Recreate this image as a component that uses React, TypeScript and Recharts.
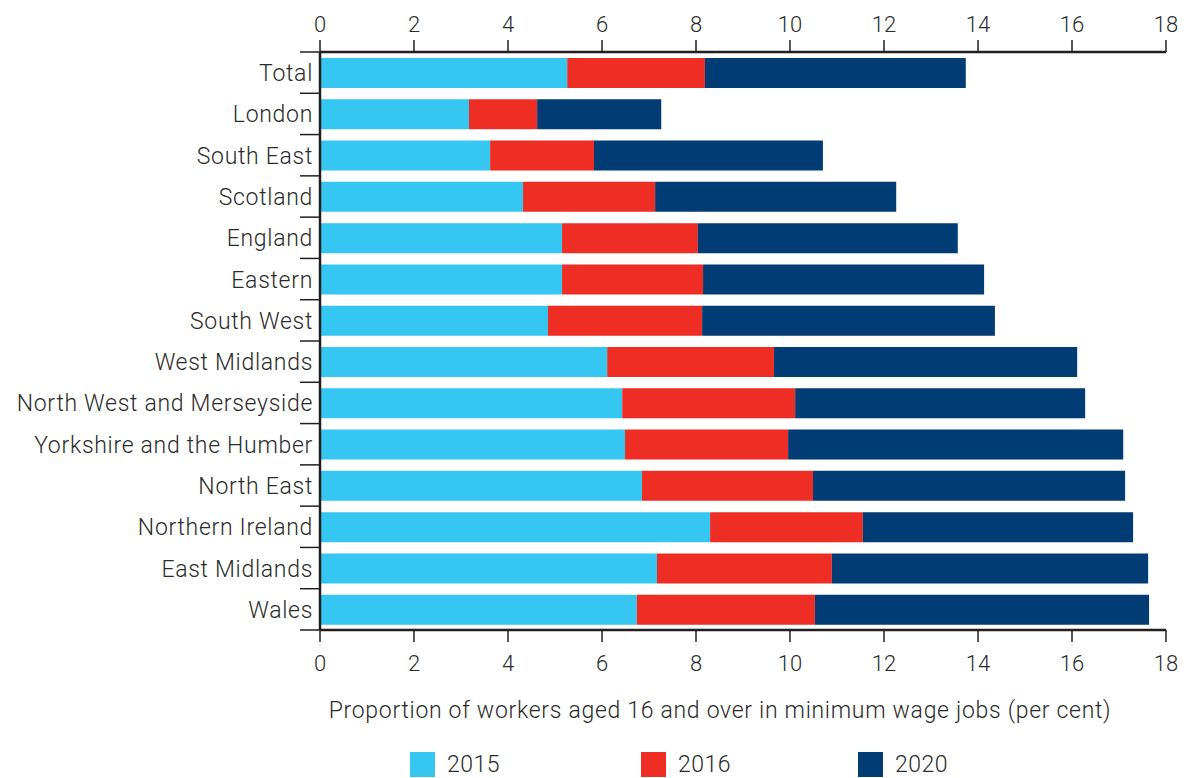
import React from 'react';
import { BarChart, Bar, XAxis, YAxis } from 'recharts';

const regions = [
  'Total', 'London', 'South East', 'Scotland', 'England', 'Eastern', 'South West',
  'West Midlands', 'North West and Merseyside', 'Yorkshire and the Humber',
  'North East', 'Northern Ireland', 'East Midlands', 'Wales',
];

// per cent of workers 16+ in minimum wage jobs, by year
const y2015 = [5.26, 3.17, 3.62, 4.32, 5.15, 5.15, 4.85, 6.11, 6.43, 6.49, 6.85, 8.30, 7.17, 6.74];
const y2016 = [8.19, 4.62, 5.83, 7.13, 8.04, 8.15, 8.13, 9.66, 10.11, 9.96, 10.49, 11.55, 10.89, 10.53];
const y2020 = [13.74, 7.26, 10.70, 12.26, 13.57, 14.13, 14.36, 16.11, 16.28, 17.09, 17.13, 17.30, 17.62, 17.64];

const years = ['2015', '2016', '2020'];
const xTicks = [0, 2, 4, 6, 8, 10, 12, 14, 16, 18];

const colors = ['#36C6F2', '#EE2E25', '#013C75'];
const INK = '#2b2b2b';
const AXIS = '#231f20';
const FONT = 'Roboto, "Liberation Sans", Arial, sans-serif';

// bars are drawn stacked, so each segment is the rise over the previous year
const data = regions.map((name, i) => ({
  name,
  s2015: y2015[i],
  s2016: y2016[i] - y2015[i],
  s2020: y2020[i] - y2016[i],
}));

const legendX = [410, 641, 858];

const RegionTick = (props: any) => {
  const { y, payload, index, visibleTicksCount } = props;
  const half = payload && payload.offset ? payload.offset : 578 / 28;
  const axisX = 320;
  return (
    <g>
      <line x1={axisX - 20} x2={axisX} y1={y - half} y2={y - half} stroke={AXIS} strokeWidth={1.5} />
      {index === visibleTicksCount - 1 && (
        <line x1={axisX - 20} x2={axisX} y1={y + half} y2={y + half} stroke={AXIS} strokeWidth={1.5} />
      )}
      <text x={313} y={y + 1} textAnchor="end" dominantBaseline="central" fill={INK}
        fontSize={23} fontWeight={300} fontFamily={FONT} letterSpacing={0.7}>
        {payload.value}
      </text>
    </g>
  );
};

export default function App() {
  return (
    <div style={{ position: 'absolute', left: 0, top: 0, width: 1191, height: 778, background: '#fff', overflow: 'hidden' }}>
      <BarChart
        width={1191}
        height={778}
        data={data}
        layout="vertical"
        margin={{ top: 0, right: 25, bottom: 0, left: 0 }}
        barSize={30}
      >
        <XAxis
          xAxisId="top"
          orientation="top"
          type="number"
          domain={[0, 18]}
          ticks={xTicks}
          height={52}
          tickSize={12}
          tickMargin={8}
          axisLine={{ stroke: AXIS, strokeWidth: 2.5 }}
          tickLine={{ stroke: AXIS, strokeWidth: 1.5 }}
          tick={{ fill: INK, fontSize: 22, fontWeight: 300, fontFamily: FONT }}
          allowDataOverflow
        />
        <XAxis
          xAxisId="bottom"
          orientation="bottom"
          type="number"
          domain={[0, 18]}
          ticks={xTicks}
          height={148}
          tickSize={12}
          tickMargin={13}
          axisLine={{ stroke: AXIS, strokeWidth: 2.5 }}
          tickLine={{ stroke: AXIS, strokeWidth: 1.5 }}
          tick={{ fill: INK, fontSize: 22, fontWeight: 300, fontFamily: FONT }}
          label={{
            value: 'Proportion of workers aged 16 and over in minimum wage jobs (per cent)',
            position: 'insideTop',
            offset: 72,
            dx: -23,
            fill: INK,
            fontSize: 23,
            fontWeight: 300,
            fontFamily: FONT,
            letterSpacing: 0.7,
          }}
        />
        <YAxis
          type="category"
          dataKey="name"
          width={320}
          tickLine={false}
          axisLine={{ stroke: AXIS, strokeWidth: 2.5 }}
          tick={<RegionTick />}
          interval={0}
        />
        <Bar dataKey="s2015" name="2015" stackId="a" xAxisId="bottom" fill={colors[0]} isAnimationActive={false} />
        <Bar dataKey="s2016" name="2016" stackId="a" xAxisId="bottom" fill={colors[1]} isAnimationActive={false} />
        <Bar dataKey="s2020" name="2020" stackId="a" xAxisId="bottom" fill={colors[2]} isAnimationActive={false} />
      </BarChart>
      {years.map((yr, i) => (
        <div key={yr} style={{ position: 'absolute', left: legendX[i], top: 752, display: 'flex', alignItems: 'center' }}>
          <span style={{ display: 'inline-block', width: 25, height: 25, background: colors[i] }} />
          <span style={{ marginLeft: 12, fontSize: 23, fontWeight: 300, color: INK, fontFamily: FONT, lineHeight: '24px', letterSpacing: 0.5 }}>
            {yr}
          </span>
        </div>
      ))}
    </div>
  );
}
